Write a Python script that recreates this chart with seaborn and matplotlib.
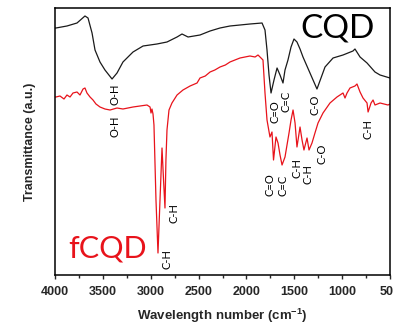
import pandas as pd
import matplotlib.pyplot as plt
import seaborn as sns

# CQD spectrum (wavenumber cm-1, transmittance a.u.)
cqd_wn = [4000, 3990, 3875, 3770, 3687, 3655, 3613, 3582, 3530, 3478, 3404,
          3352, 3290, 3185, 3080, 2935, 2830, 2725, 2673, 2610, 2485,
          2380, 2276, 2172, 2067, 1963, 1837, 1806, 1785, 1764, 1743,
          1712, 1680, 1649, 1618, 1597, 1566, 1534, 1503, 1472, 1440,
          1409, 1336, 1263, 1221, 1179, 1095, 991, 887, 866, 813, 740,
          657, 604, 500]
cqd_t = [247, 247, 249, 252, 259, 257, 242, 225, 213, 205, 196,
         202, 213, 223, 229, 231, 233, 238, 241, 238, 240,
         244, 247, 249, 250, 251, 252, 245, 225, 200, 182,
         195, 207, 200, 192, 205, 215, 228, 236, 233, 226,
         218, 202, 186, 197, 208, 217, 220, 224, 226, 218, 212,
         203, 200, 197]

# fCQD spectrum
fcqd_wn = [4000, 3990, 3948, 3906, 3875, 3843, 3812, 3770, 3739, 3707, 3687,
           3666, 3634, 3603, 3572, 3530, 3478, 3425, 3352, 3290, 3185,
           3112, 3039, 3007, 2997, 2987, 2976, 2966, 2945, 2924, 2903,
           2882, 2866, 2851, 2841, 2830, 2809, 2778, 2725, 2663, 2589,
           2516, 2485, 2430, 2380, 2330, 2276, 2220, 2172, 2120, 2067,
           1963, 1910, 1879, 1858, 1827, 1806, 1785, 1754, 1733, 1717,
           1691, 1670, 1649, 1628, 1597, 1555, 1534, 1513, 1492, 1472,
           1440, 1419, 1399, 1367, 1346, 1315, 1284, 1252, 1200, 1127,
           1054, 991, 970, 949, 918, 866, 845, 813, 782, 740, 729, 698,
           677, 657, 604, 521, 500]
fcqd_t = [178, 178, 179, 176, 180, 178, 182, 183, 180, 186, 187,
          182, 178, 175, 171, 168, 166, 165, 167, 166, 168,
          169, 170, 168, 162, 166, 161, 150, 75, 22, 75,
          127, 95, 67, 115, 145, 165, 172, 180, 185, 189,
          192, 197, 199, 203, 205, 208, 210, 213, 215, 217,
          219, 218, 220, 218, 215, 182, 155, 138, 143, 115,
          138, 132, 120, 110, 118, 142, 155, 165, 152, 128,
          148, 135, 125, 137, 125, 132, 142, 152, 162, 172,
          178, 182, 177, 182, 187, 189, 191, 183, 177, 172, 163, 172,
          175, 170, 172, 170, 171]

# band labels: (text, wavenumber, transmittance)
cqd_labels = [("O-H", 3373, 181), ("C=O", 1701, 163), ("C=C", 1587, 174),
              ("C-O", 1284, 170)]
fcqd_labels = [("O-H", 3373, 149), ("C-H", 2830, 16), ("C-H", 2757, 62),
               ("C=O", 1754, 90), ("C=C", 1618, 90), ("C-H", 1472, 107),
               ("C-H", 1357, 101), ("C-O", 1210, 121), ("C-H", 729, 146)]

df = pd.concat([
    pd.DataFrame({"wn": cqd_wn, "t": cqd_t, "sample": "CQD"}),
    pd.DataFrame({"wn": fcqd_wn, "t": fcqd_t, "sample": "fCQD"}),
])

sns.set_style("ticks")
plt.rcParams["font.family"] = ["Liberation Sans", "DejaVu Sans"]
plt.rcParams["mathtext.fontset"] = "custom"
plt.rcParams["mathtext.bf"] = "Liberation Sans:bold"

fig = plt.figure(figsize=(3.93, 3.27), dpi=100)
ax = fig.add_axes([55 / 393, 1 - 275 / 327, 335 / 393, 267 / 327])

sns.lineplot(data=df, x="wn", y="t", hue="sample", sort=False,
             palette={"CQD": "#1a1a1a", "fCQD": "#e8131b"},
             linewidth=0.9, legend=False, ax=ax)

for txt, x, y in cqd_labels + fcqd_labels:
    ax.text(x, y, txt, rotation=90, ha="center", va="center",
            fontsize=8, family=["Lato", "DejaVu Sans"], color="black")

ax.text(1043, 246, "CQD", ha="center", va="center", fontsize=24,
        family=["Lato", "DejaVu Sans"], color="black")
ax.text(3446, 27, "fCQD", ha="center", va="center", fontsize=22,
        family=["Lato", "DejaVu Sans"], color="#e8131b")

ax.set_xlim(4000, 500)
ax.set_ylim(0, 267)
ax.set_xticks([4000, 3500, 3000, 2500, 2000, 1500, 1000, 500])
ax.set_xticks(range(750, 4000, 500), minor=True)
ax.set_yticks([])
ax.tick_params(axis="x", which="major", direction="out", length=3,
               width=1, pad=5, labelsize=9)
ax.tick_params(axis="x", which="minor", direction="out", length=2, width=1)
for lbl in ax.get_xticklabels():
    lbl.set_fontweight("bold")
for s in ax.spines.values():
    s.set_linewidth(1.1)
    s.set_color("black")

ax.set_xlabel(r"Wavelength number (cm$^{\mathbf{-1}}$)", fontsize=9.5,
              fontweight="bold", labelpad=6)
ax.set_ylabel("Transmittance (a.u.)", fontsize=9, fontweight="bold",
              labelpad=14)

fig.savefig("out.png", dpi=100)
